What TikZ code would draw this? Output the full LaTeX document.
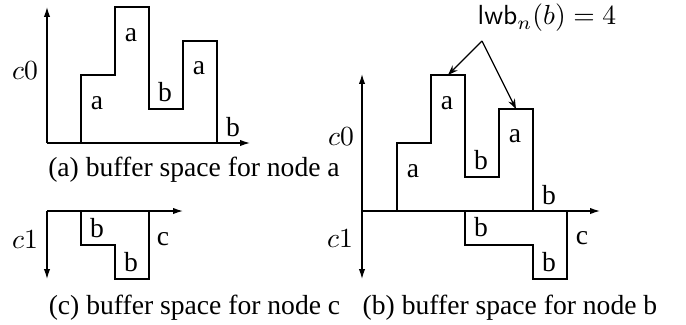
\documentclass[tikz,border=0pt]{standalone}
\usepackage[no-math]{fontspec}
\setmainfont{Liberation Serif}
\usetikzlibrary{arrows.meta}
\tikzset{
  ln/.style={line width=0.45pt, black},
  axis/.style={ln, -{Latex[length=3.6pt,width=2.3pt]}},
  ann/.style={line width=0.45pt, -{Stealth[length=3.6pt,width=2.6pt]}},
  lbl/.style={inner sep=0pt, anchor=center},
  captxt/.style={inner sep=0pt, anchor=base}
}
\begin{document}
\begin{tikzpicture}[x=0.3623pt, y=-0.3623pt]
\useasboundingbox (0,0) rectangle (686,324);
% ---------- (a) ----------
\coordinate (oa) at (47,143);
\coordinate (ya) at (47,7);
\coordinate (xa) at (250,143);
\draw[axis] (oa) -- (ya);
\draw[axis] (oa) -- (xa);
\draw[ln] (81,143) -- (81,75) -- (115,75) -- (115,7) -- (149,7) -- (149,109)
  -- (183,109) -- (183,41) -- (217,41) -- (217,143);
\node[lbl] (a1) at (97,103) {a};
\node[lbl] (a2) at (131,35) {a};
\node[lbl] (a3) at (165,92) {b};
\node[lbl] (a4) at (199,68) {a};
\node[lbl] (a5) at (233,127) {b};
\node[lbl] (ac0) at (25,71) {$c0$};
\node[captxt] (capa) at (194,176) {(a) buffer space for node a};
% ---------- (c) ----------
\coordinate (oc) at (47,211);
\coordinate (xc) at (183,211);
\coordinate (yc) at (47,279);
\draw[axis] (oc) -- (xc);
\draw[axis] (oc) -- (yc);
\draw[ln] (81,211) -- (81,245) -- (115,245) -- (115,279) -- (149,279) -- (149,211);
\node[lbl] (c1) at (97,228) {b};
\node[lbl] (c2) at (131,262) {b};
\node[lbl] (c3) at (163,239) {c};
\node[lbl] (cc1) at (25,240) {$c1$};
\node[captxt] (capc) at (194.5,314) {(c) buffer space for node c};
% ---------- (b) ----------
\coordinate (ob) at (362,211);
\coordinate (ybu) at (362,74);
\coordinate (ybd) at (362,279);
\coordinate (xb) at (600,211);
\draw[axis] (ob) -- (ybu);
\draw[axis] (ob) -- (ybd);
\draw[axis] (ob) -- (xb);
\draw[ln] (397,211) -- (397,143) -- (431,143) -- (431,75) -- (465,75) -- (465,177)
  -- (499,177) -- (499,109) -- (533,109) -- (533,211);
\draw[ln] (465,211) -- (465,245) -- (533,245) -- (533,279) -- (567,279) -- (567,211);
\node[lbl] (b1) at (413,171) {a};
\node[lbl] (b2) at (447,103) {a};
\node[lbl] (b3) at (481,160) {b};
\node[lbl] (b4) at (515,136) {a};
\node[lbl] (b5) at (549,195) {b};
\node[lbl] (b6) at (481,227) {b};
\node[lbl] (b7) at (549,262) {b};
\node[lbl] (b8) at (582,238) {c};
\node[lbl] (bc0) at (341,137) {$c0$};
\node[lbl] (bc1) at (340,239) {$c1$};
\node[captxt] (capb) at (510,314) {(b) buffer space for node b};
% annotation
\node[lbl] (lwb) at (547,18) {$\mathsf{lwb}_n(b) = 4$};
\coordinate (src) at (482,41);
\coordinate (t1) at (448,75);
\coordinate (t2) at (516,109);
\draw[ann] (src) -- (t1);
\draw[ann] (src) -- (t2);
\end{tikzpicture}
\end{document}
